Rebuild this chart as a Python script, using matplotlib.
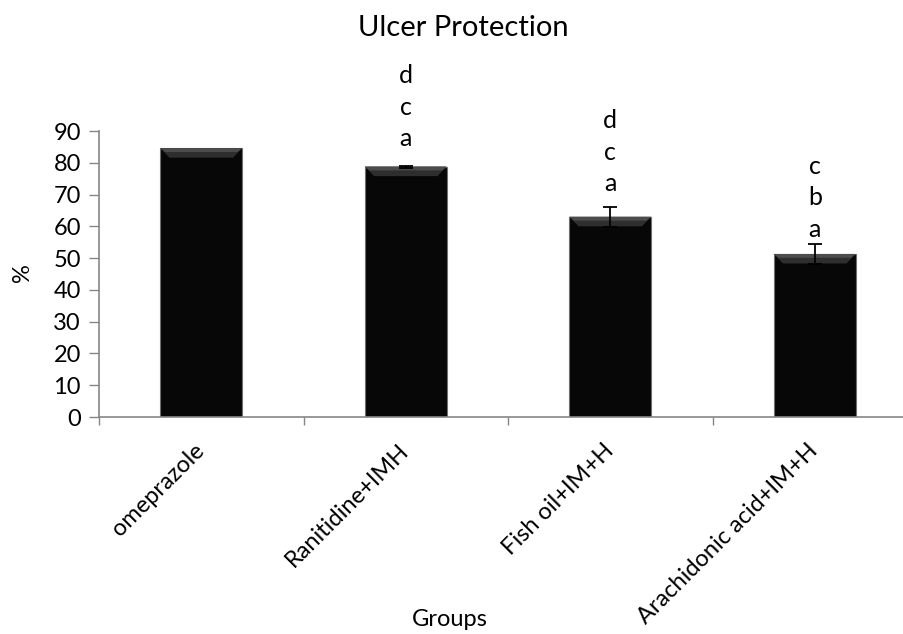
import matplotlib.pyplot as plt
from matplotlib.patches import Polygon
import numpy as np

plt.rcParams['font.family'] = ['Lato', 'DejaVu Sans']

groups = ['omeprazole', 'Ranitidine+IMH', 'Fish oil+IM+H', 'Arachidonic acid+IM+H']
protection = [84.6, 78.8, 63.0, 51.3]
sem = [0.0, 0.3, 3.1, 3.2]
letters = ['', 'd\nc\na', 'd\nc\na', 'c\nb\na']
letter_pad = [11, 8.5, 2]  # points above the error bar, per group (skip first)

fig = plt.figure(figsize=(9.04, 6.34), dpi=100)
ax = fig.add_axes([99 / 904, 1 - 417 / 634, 1 - 99 / 904, (417 - 131) / 634])

x = np.arange(len(groups))
width = 0.40
bars = ax.bar(x, protection, width, color='#070707', edgecolor='#707070', linewidth=0.8, zorder=2)

# bevel on the top edge of each bar
for b in bars:
    x0, x1 = b.get_x(), b.get_x() + b.get_width()
    top = b.get_height()
    dx, dy = 0.045, 3.0
    ax.add_patch(Polygon([(x0, top), (x1, top), (x1 - dx, top - dy), (x0 + dx, top - dy)],
                         closed=True, facecolor='#2e2e2e', edgecolor='none', zorder=3))
    ax.add_patch(Polygon([(x0, top), (x1, top), (x1 - dx * 0.5, top - dy * 0.4), (x0 + dx * 0.5, top - dy * 0.4)],
                         closed=True, facecolor='#4c4c4c', edgecolor='none', zorder=3))

for i in range(len(groups)):
    if sem[i] > 0:
        ax.errorbar(x[i], protection[i], yerr=sem[i], fmt='none', ecolor='black',
                    elinewidth=1.3, capsize=5, capthick=1.3, zorder=4)

for i in range(1, len(groups)):
    ax.annotate(letters[i], (x[i], protection[i] + sem[i]), xytext=(0, letter_pad[i - 1]),
                textcoords='offset points', ha='center', va='bottom', fontsize=18,
                linespacing=1.45)

ax.set_ylim(0, 90)
ax.set_xlim(-0.5, 3.5 - 13 / 204.5)
ax.set_yticks(range(0, 91, 10))
ax.tick_params(axis='y', direction='out', length=7, width=1, color='#868686', labelsize=17, pad=6)

ax.set_xticks(x)
ax.set_xticklabels(groups, rotation=45, ha='right', va='center', rotation_mode='anchor', fontsize=17)
ax.tick_params(axis='x', which='major', length=0, pad=22)
ax.set_xticks(np.arange(-0.5, 3.0, 1.0), minor=True)
ax.tick_params(axis='x', which='minor', direction='out', length=6, width=1, color='#868686')

for side in ['top', 'right']:
    ax.spines[side].set_visible(False)
for side in ['left', 'bottom']:
    ax.spines[side].set_color('#868686')
    ax.spines[side].set_linewidth(1.2)

fig.text(463 / 904, 1 - 28 / 634, 'Ulcer Protection', ha='center', va='center', fontsize=21)
fig.text(450 / 904, 1 - 620 / 634, 'Groups', ha='center', va='center', fontsize=17)
fig.text(23 / 904, 1 - 273 / 634, '%', ha='center', va='center', rotation=90, fontsize=17)

fig.savefig('out.png', dpi=100)
